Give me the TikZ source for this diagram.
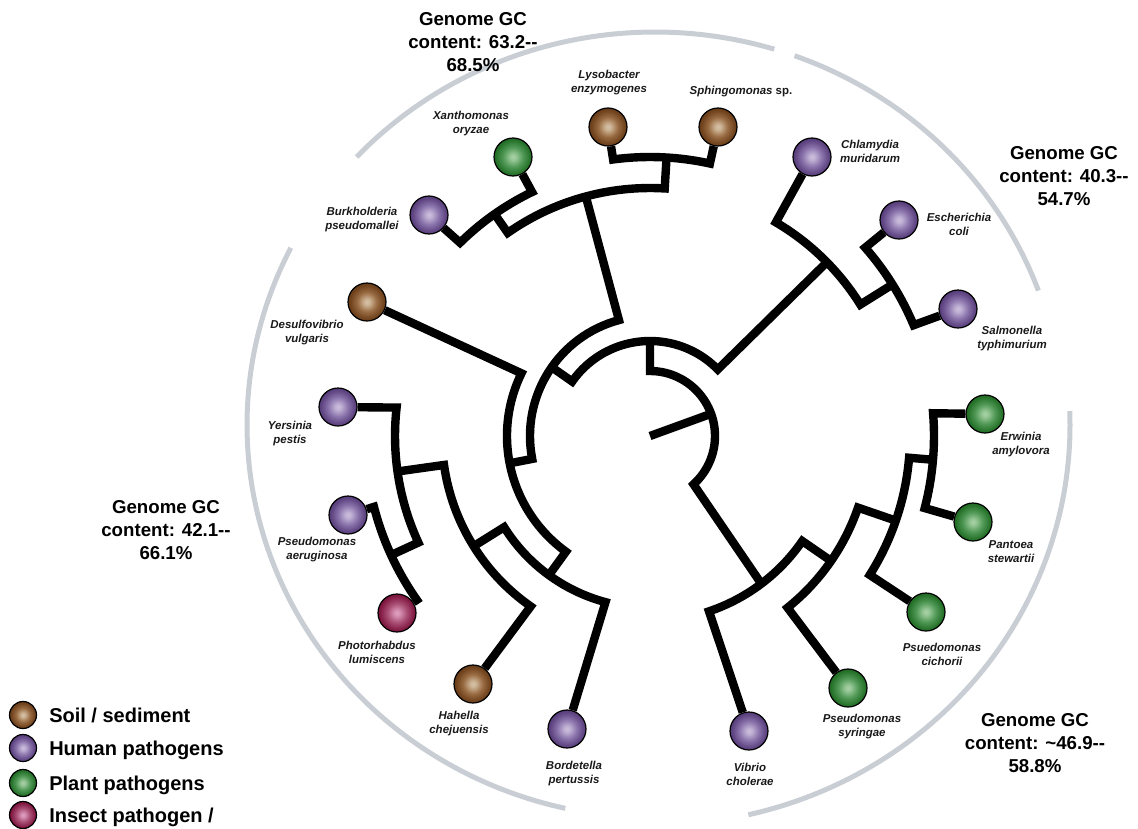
\documentclass[tikz,border=0pt]{standalone}
\usepackage{fontspec}
\setmainfont{Liberation Sans}
\usetikzlibrary{calc}
\pgfdeclarelayer{bg}
\pgfsetlayers{bg,main}
\definecolor{gcgray}{RGB}{200,206,212}
\pgfdeclareradialshading{soilball}{\pgfpoint{0bp}{0bp}}{rgb(0bp)=(0.84,0.76,0.66); rgb(4bp)=(0.80,0.70,0.58); rgb(13bp)=(0.60,0.42,0.26); rgb(21bp)=(0.46,0.28,0.13); rgb(25bp)=(0.40,0.23,0.09); rgb(50bp)=(0.40,0.23,0.09)}
\pgfdeclareradialshading{humball}{\pgfpoint{0bp}{0bp}}{rgb(0bp)=(0.80,0.75,0.86); rgb(4bp)=(0.75,0.69,0.83); rgb(13bp)=(0.54,0.45,0.67); rgb(21bp)=(0.39,0.29,0.53); rgb(25bp)=(0.33,0.23,0.47); rgb(50bp)=(0.33,0.23,0.47)}
\pgfdeclareradialshading{plantball}{\pgfpoint{0bp}{0bp}}{rgb(0bp)=(0.66,0.82,0.66); rgb(4bp)=(0.59,0.78,0.59); rgb(13bp)=(0.32,0.60,0.34); rgb(21bp)=(0.17,0.47,0.19); rgb(25bp)=(0.12,0.41,0.13); rgb(50bp)=(0.12,0.41,0.13)}
\pgfdeclareradialshading{insectball}{\pgfpoint{0bp}{0bp}}{rgb(0bp)=(0.88,0.63,0.76); rgb(4bp)=(0.83,0.56,0.69); rgb(13bp)=(0.66,0.30,0.45); rgb(21bp)=(0.53,0.13,0.29); rgb(25bp)=(0.47,0.06,0.22); rgb(50bp)=(0.47,0.06,0.22)}
\newcommand\ddash{-\kern0pt-}
\newcommand\polc[3]{\coordinate (#1) at ($(O)+(#2:#3)$);}
\begin{document}
\begin{tikzpicture}[x=0.75pt,y=-0.75pt,
  leaf/.style={circle, draw=black, line width=0.9pt, minimum size=28.5pt, inner sep=0pt, shade},
  soil/.style={leaf, shading=soilball},
  hum/.style={leaf, shading=humball},
  plant/.style={leaf, shading=plantball},
  insect/.style={leaf, shading=insectball},
  leg/.style={circle, draw=black, line width=0.9pt, minimum size=20.25pt, inner sep=0pt, shade},
  lbl/.style={font=\fontsize{8.6}{10.5}\selectfont\bfseries\itshape, align=center, inner sep=0pt, text=black!90},
  gc/.style={font=\fontsize{14}{17.3}\selectfont\bfseries, align=center, inner sep=0pt},
  legt/.style={font=\fontsize{15}{18}\selectfont\bfseries, anchor=base west, inner sep=0pt},
  br/.style={line width=6.3pt, line join=miter, black},
  gcarc/.style={line width=3.75pt, draw=gcgray}]
\useasboundingbox (0,0) rectangle (1138,828);
\clip (0,0) rectangle (1138,828);

% leaves
\node[soil] (lys) at (608,127) {};
\node[soil] (sph) at (718,127) {};
\node[plant] (xan) at (513,157) {};
\node[hum] (bur) at (429,215) {};
\node[soil] (des) at (367,302) {};
\node[hum] (yer) at (338,407) {};
\node[hum] (pae) at (348,515) {};
\node[insect] (pho) at (397,613) {};
\node[soil] (hah) at (473,684) {};
\node[hum] (bor) at (567,729) {};
\node[hum] (vib) at (749,731) {};
\node[plant] (psy) at (848,688) {};
\node[plant] (pci) at (926,612) {};
\node[plant] (pan) at (973,522) {};
\node[plant] (erw) at (985,414) {};
\node[hum] (chl) at (812,157) {};
\node[hum] (eco) at (899,220) {};
\node[hum] (sal) at (958,309) {};

% leaf labels
\node[lbl] (lysL) at (609,83) {Lysobacter\\enzymogenes};
\node[lbl] (sphL) at (741,92) {Sphingomonas \textup{sp.}};
\node[lbl] (xanL) at (471,124) {Xanthomonas\\oryzae};
\node[lbl] (burL) at (362,220) {Burkholderia\\pseudomallei};
\node[lbl] (desL) at (307,333) {Desulfovibrio\\vulgaris};
\node[lbl] (yerL) at (290,434) {Yersinia\\pestis};
\node[lbl] (paeL) at (317,550) {Pseudomonas\\aeruginosa};
\node[lbl] (phoL) at (377,652) {Photorhabdus\\lumiscens};
\node[lbl] (hahL) at (459,724) {Hahella\\chejuensis};
\node[lbl] (borL) at (574,774) {Bordetella\\pertussis};
\node[lbl] (vibL) at (750,774) {Vibrio\\cholerae};
\node[lbl] (psyL) at (862,727) {Pseudomonas\\syringae};
\node[lbl] (pciL) at (942,654) {Psuedomonas\\cichorii};
\node[lbl] (panL) at (1011,552) {Pantoea\\stewartii};
\node[lbl] (erwL) at (1021,445) {Erwinia\\amylovora};
\node[lbl] (chlL) at (870,151) {Chlamydia\\muridarum};
\node[lbl] (ecoL) at (959,224) {Escherichia\\coli};
\node[lbl] (salL) at (1012,339) {Salmonella\\typhimurium};

% GC labels
\node[gc] (gcTop) at (473,42) {Genome GC\\content: 63.2\ddash\\68.5\%};
\node[gc] (gcRight) at (1064,176) {Genome GC\\content: 40.3\ddash\\54.7\%};
\node[gc] (gcLeft) at (166,530) {Genome GC\\content: 42.1\ddash\\66.1\%};
\node[gc] (gcBot) at (1035,743) {Genome GC\\content: \textasciitilde46.9\ddash\\58.8\%};

% legend
\node[leg, shading=soilball] (lg1) at (23,715) {};
\node[leg, shading=humball] (lg2) at (23,748) {};
\node[leg, shading=plantball] (lg3) at (23,783) {};
\node[leg, shading=insectball] (lg4) at (23,815) {};
\node[legt] (lt1) at (49,722) {Soil / sediment};
\node[legt] (lt2) at (49,755) {Human pathogens};
\node[legt] (lt3) at (49,790) {Plant pathogens};
\node[legt] (lt4) at (49,822) {Insect pathogen /};

% tree geometry
\coordinate (O) at (650,436);
\polc{root}{-20}{65}
\polc{a1s}{-90}{65}
\polc{a2a}{-90}{95}
\polc{p4m}{53}{185}
\polc{a2l}{-145}{95}
\polc{a3m}{-145}{120}
\polc{chm}{-44.5}{248}
\polc{ch1}{-59.5}{248}
\polc{esm}{-32}{286}
\polc{es1}{-41.2}{286}
\polc{a3t}{-105}{120}
\polc{atm}{-105}{248}
\polc{a4m}{-191}{143}
\polc{at1}{-125}{248}
\polc{bxm}{-125}{271}
\polc{lsm}{-86.6}{279}
\polc{ls1}{-97.6}{279}
\polc{bx1}{-134.5}{271}
\polc{a41}{-154}{143}
\polc{a6m}{-234}{172}
\polc{a61}{148}{172}
\polc{a5m}{148}{208}
\polc{a51}{172}{208}
\polc{aym}{172}{255}
\polc{ay1}{186.4}{255}
\polc{apm}{155.3}{285}
\polc{ap1}{165.6}{285}
\polc{p41}{34.6}{185}
\polc{p3m}{34.6}{220}
\polc{p31}{19}{220}
\polc{p2m}{19}{260}
\polc{p21}{4.8}{260}
\polc{p1m}{4.8}{284}
\polc{p11}{-4.6}{284}

\begin{pgfonlayer}{bg}
% grey GC arcs
\draw[gcarc] plot[domain=73:137,samples=60] ({655+408*cos(\x)},{425-393*sin(\x)});
\draw[gcarc] plot[domain=20:70,samples=60] ({655+408*cos(\x)},{425-393*sin(\x)});
\draw[gcarc] plot[domain=-77:2,samples=80] ({655+415*cos(\x)},{425-400*sin(\x)});
\draw[gcarc] plot[domain=153.2:257.3,samples=100] ({655+408*cos(\x)},{425-393*sin(\x)});
% branches
\draw[br] (O) -- (root);
\draw[br] (a2a) -- (a1s) arc[start angle=-90,end angle=48,radius=65] -- (p4m);
\draw[br] (a3m) -- (a2l) arc[start angle=-145,end angle=-44.5,radius=95] -- (chm);
\draw[br] (chl) -- (ch1) arc[start angle=-59.5,end angle=-32,radius=248] -- (esm);
\draw[br] (eco) -- (es1) arc[start angle=-41.2,end angle=-22.8,radius=286] -- (sal);
\draw[br] (atm) -- (a3t) arc[start angle=-105,end angle=-191,radius=120] -- (a4m);
\draw[br] (bxm) -- (at1) arc[start angle=-125,end angle=-86.6,radius=248] -- (lsm);
\draw[br] (lys) -- (ls1) arc[start angle=-97.6,end angle=-77.6,radius=279] -- (sph);
\draw[br] (bur) -- (bx1) arc[start angle=-134.5,end angle=-115.8,radius=271] -- (xan);
\draw[br] (des) -- (a41) arc[start angle=-154,end angle=-234,radius=143] -- (a6m);
\draw[br] (a5m) -- (a61) arc[start angle=148,end angle=105,radius=172] -- (bor);
\draw[br] (aym) -- (a51) arc[start angle=172,end angle=125,radius=208] -- (hah);
\draw[br] (yer) -- (ay1) arc[start angle=186.4,end angle=155.3,radius=255] -- (apm);
\draw[br] (pae) -- (ap1) arc[start angle=165.6,end angle=144.9,radius=285] -- (pho);
\draw[br] (p3m) -- (p41) arc[start angle=34.6,end angle=71.4,radius=185] -- (vib);
\draw[br] (p2m) -- (p31) arc[start angle=19,end angle=51.3,radius=220] -- (psy);
\draw[br] (p1m) -- (p21) arc[start angle=4.8,end angle=32.3,radius=260] -- (pci);
\draw[br] (erw) -- (p11) arc[start angle=-4.6,end angle=14.7,radius=284] -- (pan);
\end{pgfonlayer}
\end{tikzpicture}
\end{document}
